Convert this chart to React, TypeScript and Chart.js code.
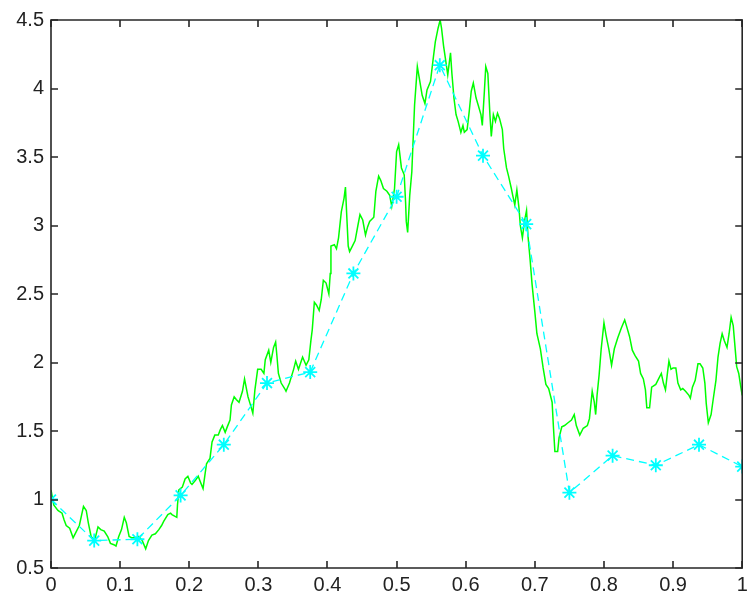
import { useEffect, useRef } from "react";
import { Chart, registerables } from "chart.js";

Chart.register(...registerables);

// Green path (fine-resolution sample path)
const greenX = [
  0.000, 0.004, 0.010, 0.016, 0.019, 0.022, 0.027, 0.032, 0.036, 0.041, 0.047, 0.051, 0.054, 0.058, 0.063,
  0.068, 0.072, 0.077, 0.082, 0.086, 0.091, 0.094, 0.098, 0.102, 0.106, 0.109, 0.113, 0.117, 0.122, 0.127,
  0.132, 0.137, 0.141, 0.146, 0.151, 0.156, 0.160,
  0.163, 0.169, 0.173, 0.175, 0.182, 0.183, 0.185, 0.190, 0.194, 0.198, 0.202, 0.204, 0.209, 0.213, 0.216,
  0.220, 0.223, 0.225, 0.230, 0.233, 0.237, 0.242, 0.245, 0.248, 0.252, 0.255, 0.259, 0.261, 0.265, 0.268,
  0.272, 0.277, 0.280, 0.285, 0.288, 0.292, 0.295, 0.299, 0.304, 0.308, 0.310, 0.315, 0.318, 0.322, 0.325,
  0.327, 0.329, 0.333,
  0.338, 0.340, 0.345, 0.351, 0.354, 0.358, 0.364, 0.369, 0.373, 0.376, 0.378, 0.381, 0.384, 0.388, 0.391,
  0.394, 0.398, 0.402, 0.404, 0.405, 0.410, 0.413, 0.416, 0.420, 0.424, 0.426, 0.428, 0.430, 0.432, 0.436,
  0.440, 0.444, 0.447, 0.451, 0.455, 0.458, 0.461, 0.467, 0.470, 0.474, 0.477, 0.481, 0.486, 0.490,
  0.493, 0.497, 0.500, 0.503, 0.507, 0.511, 0.513, 0.514, 0.516, 0.519, 0.522, 0.526, 0.530, 0.533, 0.537,
  0.541, 0.544, 0.549, 0.553, 0.556, 0.560, 0.563, 0.565, 0.568, 0.572, 0.574, 0.578, 0.580, 0.583, 0.586,
  0.589, 0.593, 0.596, 0.598, 0.602, 0.605, 0.608, 0.611, 0.615, 0.618, 0.622, 0.624, 0.627, 0.629, 0.632,
  0.635, 0.637, 0.640, 0.643, 0.646, 0.649, 0.653, 0.655, 0.659, 0.662, 0.666,
  0.668, 0.671, 0.674, 0.677, 0.679, 0.682, 0.685, 0.688, 0.690, 0.693, 0.696, 0.700, 0.703, 0.708, 0.712,
  0.716, 0.720, 0.725, 0.727, 0.729, 0.733, 0.735, 0.739, 0.743, 0.748, 0.753, 0.757, 0.760, 0.765, 0.770,
  0.776, 0.779, 0.783, 0.786, 0.788, 0.790, 0.793, 0.796, 0.800, 0.803, 0.807, 0.811, 0.815, 0.820, 0.825,
  0.830, 0.833, 0.837, 0.841, 0.845, 0.850, 0.853, 0.857, 0.860, 0.862, 0.866, 0.869, 0.875, 0.879, 0.883,
  0.886, 0.889, 0.892, 0.894, 0.897, 0.900, 0.904, 0.907, 0.911, 0.914, 0.918, 0.923, 0.925, 0.928, 0.932,
  0.936, 0.939, 0.943, 0.946, 0.948, 0.951, 0.955, 0.958, 0.962, 0.965, 0.968, 0.971, 0.974, 0.978, 0.981,
  0.984, 0.987, 0.990, 0.992, 0.995, 0.998, 1.000,
];
const greenY = [
  1.07, 0.96, 0.92, 0.90, 0.85, 0.81, 0.79, 0.72, 0.76, 0.81, 0.95, 0.92, 0.83, 0.73, 0.70,
  0.80, 0.78, 0.77, 0.73, 0.68, 0.67, 0.66, 0.73, 0.78, 0.87, 0.83, 0.73, 0.72, 0.72, 0.73,
  0.70, 0.64, 0.70, 0.74, 0.75, 0.78, 0.81,
  0.84, 0.89, 0.90, 0.89, 0.87, 0.96, 1.07, 1.09, 1.15, 1.17, 1.12, 1.11, 1.14, 1.17, 1.13,
  1.08, 1.19, 1.26, 1.30, 1.42, 1.47, 1.47, 1.51, 1.54, 1.49, 1.53, 1.58, 1.69, 1.75, 1.73,
  1.71, 1.79, 1.88, 1.75, 1.70, 1.63, 1.80, 1.95, 1.95, 1.92, 2.02, 2.09, 2.00, 2.11, 2.15,
  2.04, 1.92, 1.85,
  1.81, 1.79, 1.85, 1.95, 2.01, 1.95, 2.04, 1.98, 2.02, 2.16, 2.24, 2.44, 2.42, 2.38, 2.46,
  2.60, 2.58, 2.50, 2.65, 2.85, 2.86, 2.83, 2.91, 3.10, 3.20, 3.28, 3.06, 2.85, 2.81, 2.85,
  2.89, 3.00, 3.08, 3.04, 2.93, 2.99, 3.03, 3.06, 3.25, 3.36, 3.33, 3.27, 3.25, 3.22,
  3.14, 3.27, 3.54, 3.59, 3.42, 3.37, 3.17, 3.03, 2.95, 3.22, 3.39, 3.88, 4.16, 4.07, 3.95,
  3.89, 3.99, 4.05, 4.22, 4.34, 4.44, 4.50, 4.44, 4.31, 4.17, 4.10, 4.26, 4.11, 3.93, 3.81,
  3.76, 3.68, 3.73, 3.68, 3.70, 3.83, 3.98, 4.04, 3.93, 3.88, 3.81, 3.73, 3.98, 4.16, 4.11,
  3.81, 3.65, 3.81, 3.76, 3.82, 3.78, 3.70, 3.56, 3.42, 3.36, 3.27,
  3.22, 3.15, 3.26, 3.13, 3.00, 2.91, 3.03, 3.11, 2.93, 2.76, 2.57, 2.37, 2.21, 2.10, 1.96,
  1.84, 1.81, 1.71, 1.52, 1.35, 1.35, 1.45, 1.53, 1.54, 1.56, 1.58, 1.62, 1.54, 1.47, 1.52,
  1.54, 1.59, 1.79, 1.71, 1.62, 1.76, 1.91, 2.10, 2.29, 2.20, 2.10, 1.98, 2.10, 2.18, 2.25,
  2.31, 2.26, 2.19, 2.09, 2.05, 2.01, 1.92, 1.88, 1.80, 1.67, 1.67, 1.82, 1.84, 1.88, 1.92,
  1.85, 1.80, 1.93, 2.01, 1.95, 1.96, 1.96, 1.85, 1.80, 1.81, 1.79, 1.76, 1.74, 1.82, 1.87,
  1.99, 1.99, 1.96, 1.85, 1.70, 1.56, 1.62, 1.73, 1.87, 2.04, 2.14, 2.21, 2.16, 2.11, 2.21,
  2.33, 2.27, 2.09, 1.97, 1.92, 1.82, 1.76,
];

// Cyan coarse samples at k/16
const starX = [0, 0.0625, 0.125, 0.1875, 0.25, 0.3125, 0.375, 0.4375, 0.5, 0.5625, 0.625, 0.6875, 0.75, 0.8125, 0.875, 0.9375, 1];
const starY = [1.0, 0.70, 0.71, 1.03, 1.40, 1.85, 1.93, 2.65, 3.21, 4.17, 3.51, 3.01, 1.05, 1.32, 1.25, 1.40, 1.24];

const xTicks = [0, 0.1, 0.2, 0.3, 0.4, 0.5, 0.6, 0.7, 0.8, 0.9, 1];
const yTicks = [0.5, 1, 1.5, 2, 2.5, 3, 3.5, 4, 4.5];

const FONT = '20px "Liberation Sans", Arial, sans-serif';
const AXIS_COLOR = "#262626";

const framePlugin = {
  id: "matlabFrame",
  afterDraw(chart: any) {
    const { ctx, chartArea } = chart;
    const { left, right, top, bottom } = chartArea;
    const xs = chart.scales.x;
    const ys = chart.scales.y;
    const tl = 7;
    ctx.save();
    ctx.strokeStyle = AXIS_COLOR;
    ctx.lineWidth = 1.6;
    ctx.beginPath();
    ctx.rect(left, top, right - left, bottom - top);
    ctx.stroke();
    ctx.beginPath();
    xTicks.forEach((v) => {
      const px = Math.round(xs.getPixelForValue(v));
      ctx.moveTo(px, bottom);
      ctx.lineTo(px, bottom - tl);
      ctx.moveTo(px, top);
      ctx.lineTo(px, top + tl);
    });
    yTicks.forEach((v) => {
      const py = Math.round(ys.getPixelForValue(v));
      ctx.moveTo(left, py);
      ctx.lineTo(left + tl, py);
      ctx.moveTo(right, py);
      ctx.lineTo(right - tl, py);
    });
    ctx.stroke();

    ctx.fillStyle = "#222";
    ctx.font = FONT;
    ctx.textAlign = "center";
    ctx.textBaseline = "top";
    xTicks.forEach((v) => {
      const px = xs.getPixelForValue(v);
      ctx.fillText(String(parseFloat(v.toFixed(2))), px, bottom + 7);
    });
    ctx.textAlign = "right";
    ctx.textBaseline = "middle";
    yTicks.forEach((v) => {
      const py = ys.getPixelForValue(v);
      ctx.fillText(String(parseFloat(v.toFixed(2))), left - 7, py);
    });
    ctx.restore();
  },
};

export default function App() {
  const canvasRef = useRef<HTMLCanvasElement | null>(null);

  useEffect(() => {
    const canvas = canvasRef.current;
    if (!canvas) return;
    const chart = new Chart(canvas, {
      type: "scatter",
      data: {
        datasets: [
          {
            label: "path",
            data: greenX.map((x, i) => ({ x, y: greenY[i] })),
            showLine: true,
            borderColor: "#00ff00",
            backgroundColor: "#00ff00",
            borderWidth: 1.5,
            pointRadius: 0,
            tension: 0,
            order: 2,
          },
          {
            label: "samples",
            data: starX.map((x, i) => ({ x, y: starY[i] })),
            showLine: true,
            borderColor: "#00ffff",
            backgroundColor: "#00ffff",
            borderWidth: 1.3,
            borderDash: [8, 5],
            pointStyle: "star",
            pointRadius: 7,
            pointBorderWidth: 1.8,
            pointBorderColor: "#00ffff",
            tension: 0,
            order: 1,
          },
        ],
      },
      options: {
        animation: false,
        responsive: false,
        maintainAspectRatio: false,
        events: [],
        layout: { padding: { left: 51, right: 2, top: 20, bottom: 31 } },
        plugins: {
          legend: { display: false },
          tooltip: { enabled: false },
        },
        scales: {
          x: {
            type: "linear",
            min: 0,
            max: 1,
            grid: { display: false, drawTicks: false },
            border: { display: false },
            ticks: { display: false },
            afterFit: (s: any) => {
              s.height = 0;
            },
          },
          y: {
            type: "linear",
            min: 0.5,
            max: 4.5,
            grid: { display: false, drawTicks: false },
            border: { display: false },
            ticks: { display: false },
            afterFit: (s: any) => {
              s.width = 0;
            },
          },
        },
      },
      plugins: [framePlugin],
    });
    return () => chart.destroy();
  }, []);

  return (
    <div style={{ position: "fixed", left: 0, top: 0, width: 751, height: 599, background: "#fff" }}>
      <canvas ref={canvasRef} width={751} height={599} style={{ display: "block" }} />
    </div>
  );
}
